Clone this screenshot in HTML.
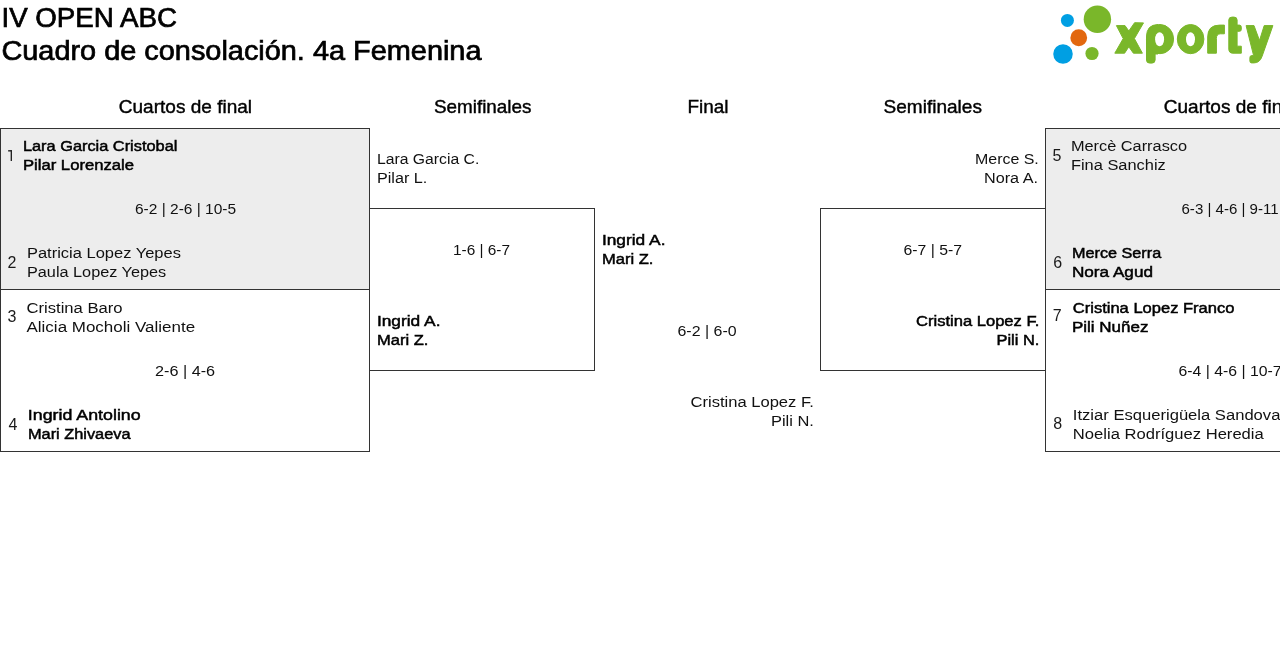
<!DOCTYPE html>
<html><head><meta charset="utf-8">
<style>
html,body{margin:0;padding:0;background:#fff;width:1280px;height:664px;overflow:hidden}
svg{position:absolute;left:0;top:0;display:block;will-change:transform}
text{font-family:"Liberation Sans",sans-serif;font-size:15.5px;fill:#1e1e1e}
.title{font-size:27px;fill:#000;stroke:#000;stroke-width:0.7px}
.hdr{font-size:18px;fill:#000;stroke:#000;stroke-width:0.4px}
.b{fill:#000;stroke:#000;stroke-width:0.5px}
.n{fill:#111}
.seed{fill:#1a1a1a;font-size:16px}
</style></head>
<body>
<svg width="1280" height="664" viewBox="0 0 1280 664">
<g shape-rendering="crispEdges">
<rect x="1" y="129" width="368" height="160" fill="#ededed"/>
<rect x="1046" y="129" width="234" height="160" fill="#ededed"/>
<rect x="0" y="128" width="1" height="324" fill="#333"/>
<rect x="369" y="128" width="1" height="324" fill="#333"/>
<rect x="0" y="128" width="370" height="1" fill="#333"/>
<rect x="0" y="289" width="370" height="1" fill="#333"/>
<rect x="0" y="451" width="370" height="1" fill="#333"/>
<rect x="369" y="208" width="226" height="1" fill="#333"/>
<rect x="369" y="370" width="226" height="1" fill="#333"/>
<rect x="594" y="208" width="1" height="163" fill="#333"/>
<rect x="820" y="208" width="226" height="1" fill="#333"/>
<rect x="820" y="370" width="226" height="1" fill="#333"/>
<rect x="820" y="208" width="1" height="163" fill="#333"/>
<rect x="1045" y="128" width="1" height="324" fill="#333"/>
<rect x="1045" y="128" width="236" height="1" fill="#333"/>
<rect x="1045" y="289" width="236" height="1" fill="#333"/>
<rect x="1045" y="451" width="236" height="1" fill="#333"/>
</g>
<g id="logo">
<circle cx="1067.4" cy="20.4" r="6.5" fill="#009fe3"/>
<circle cx="1097.4" cy="19.2" r="13.7" fill="#7ab72a"/>
<circle cx="1078.75" cy="37.75" r="8.4" fill="#e2680f"/>
<circle cx="1063" cy="54" r="9.75" fill="#009fe3"/>
<circle cx="1092" cy="53.5" r="6.6" fill="#7ab72a"/>
<g fill="#7ab72a" stroke="#7ab72a" stroke-width="1" stroke-linejoin="round">
<path d="M1116.4,25.6 L1125,25.6 L1128.8,31 L1134.6,22.7 L1143.5,22.9 L1134.4,38.6 L1142.4,53.2 L1133.4,53.2 L1128.8,46.8 L1124.6,53.2 L1114.8,53.2 L1123.2,38.6 Z"/>
<path d="M1146.5,60 L1146.5,37 Q1146.5,24.6 1158,24.6 L1158,54 L1155.1,54 L1155.1,60 Q1155.1,63.1 1152,63.1 L1149.6,63.1 Q1146.5,63.1 1146.5,60 Z"/>
<ellipse cx="1160" cy="39.1" rx="13.6" ry="14.6"/>
<ellipse cx="1190.6" cy="39.1" rx="13.3" ry="14.6"/>
<path d="M1207.7,53.2 L1207.7,37 Q1207.7,25.1 1219.5,25.1 L1224.4,25.1 L1224.4,33.8 L1220.5,33.8 Q1216.4,33.8 1216.4,38.5 L1216.4,53.2 Z"/>
<path d="M1228.8,20 Q1228.8,17.1 1232,17.1 L1234,17.1 Q1237.1,17.1 1237.1,20 L1237.1,25.1 L1239.5,25.1 Q1241.3,25.1 1241.3,27.2 L1241.3,29.5 Q1241.3,31.3 1239.5,31.3 L1237.1,31.3 L1237.1,46.2 L1241.3,46.2 L1241.3,53.2 L1233,53.2 Q1228.8,53.2 1228.8,49 Z"/>
<path d="M1246.1,25.6 L1254,25.6 L1259.5,40.5 L1264.2,25.6 L1272.9,25.6 L1262,56.5 Q1259.8,62.9 1254,62.9 L1251.5,62.9 Q1249.9,62.9 1249.9,61 L1249.9,57.5 Q1249.9,55.6 1251.8,55.6 L1253.6,55.6 Z"/>
</g>
<ellipse cx="1159.6" cy="39.3" rx="4.5" ry="7" fill="#fff"/>
<ellipse cx="1190.5" cy="39.3" rx="4.5" ry="7" fill="#fff"/>
</g>

<path d="M8.1,150.9 L11.3,150.6 L11.3,161" fill="none" stroke="#1a1a1a" stroke-width="1.3"/>
<text class="title" transform="translate(1.45 26.5) scale(1.0262 1)">IV OPEN ABC</text>
<text class="title" transform="translate(1.43 60) scale(1.0700 1)">Cuadro de consolación. 4a Femenina</text>
<text class="hdr" transform="translate(118.80 113) scale(1.0570 1)">Cuartos de final</text>
<text class="hdr" transform="translate(434.00 113) scale(1.0479 1)">Semifinales</text>
<text class="hdr" transform="translate(687.45 113) scale(1.0536 1)">Final</text>
<text class="hdr" transform="translate(883.60 113) scale(1.0576 1)">Semifinales</text>
<text class="hdr" transform="translate(1163.80 113) scale(1.0570 1)">Cuartos de final</text>
<text class="b" transform="translate(22.94 151) scale(1.0551 1)">Lara Garcia Cristobal</text>
<text class="b" transform="translate(22.92 170) scale(1.0759 1)">Pilar Lorenzale</text>
<text class="n" transform="translate(135.00 214) scale(1.0001 1)">6-2 | 2-6 | 10-5</text>
<text class="seed" transform="translate(7.60 268) scale(1.0000 1)">2</text>
<text class="n" transform="translate(26.94 258) scale(1.0637 1)">Patricia Lopez Yepes</text>
<text class="n" transform="translate(26.95 277) scale(1.0509 1)">Paula Lopez Yepes</text>
<text class="seed" transform="translate(7.50 322) scale(1.0000 1)">3</text>
<text class="n" transform="translate(26.50 313) scale(1.0734 1)">Cristina Baro</text>
<text class="n" transform="translate(26.50 332) scale(1.0959 1)">Alicia Mocholi Valiente</text>
<text class="n" transform="translate(155.00 376) scale(1.0471 1)">2-6 | 4-6</text>
<text class="seed" transform="translate(8.50 430) scale(1.0000 1)">4</text>
<text class="b" transform="translate(27.85 420) scale(1.1490 1)">Ingrid Antolino</text>
<text class="b" transform="translate(27.95 439) scale(1.0546 1)">Mari Zhivaeva</text>
<text class="n" transform="translate(376.98 164) scale(1.0154 1)">Lara Garcia C.</text>
<text class="n" transform="translate(376.96 183) scale(1.0450 1)">Pilar L.</text>
<text class="n" transform="translate(453.01 255) scale(0.9942 1)">1-6 | 6-7</text>
<text class="b" transform="translate(376.88 326) scale(1.1188 1)">Ingrid A.</text>
<text class="b" transform="translate(376.93 345) scale(1.0673 1)">Mari Z.</text>
<text class="b" transform="translate(601.88 245) scale(1.1188 1)">Ingrid A.</text>
<text class="b" transform="translate(601.93 264) scale(1.0673 1)">Mari Z.</text>
<text class="n" transform="translate(677.50 336) scale(1.0290 1)">6-2 | 6-0</text>
<text class="n" transform="translate(690.50 407) scale(1.0689 1)">Cristina Lopez F.</text>
<text class="n" transform="translate(770.94 426) scale(1.0611 1)">Pili N.</text>
<text class="n" transform="translate(974.97 164) scale(1.0300 1)">Merce S.</text>
<text class="n" transform="translate(983.96 183) scale(1.0450 1)">Nora A.</text>
<text class="n" transform="translate(903.50 255) scale(1.0207 1)">6-7 | 5-7</text>
<text class="b" transform="translate(916.00 326) scale(1.0689 1)">Cristina Lopez F.</text>
<text class="b" transform="translate(996.44 345) scale(1.0611 1)">Pili N.</text>
<text class="seed" transform="translate(1052.60 161) scale(1.0000 1)">5</text>
<text class="n" transform="translate(1070.95 151) scale(1.0541 1)">Mercè Carrasco</text>
<text class="n" transform="translate(1070.94 170) scale(1.0586 1)">Fina Sanchiz</text>
<text class="n" transform="translate(1181.50 214) scale(0.9715 1)">6-3 | 4-6 | 9-11</text>
<text class="seed" transform="translate(1053.15 268) scale(1.0000 1)">6</text>
<text class="b" transform="translate(1071.95 258) scale(1.0466 1)">Merce Serra</text>
<text class="b" transform="translate(1071.89 277) scale(1.1079 1)">Nora Agud</text>
<text class="seed" transform="translate(1052.65 321) scale(1.0000 1)">7</text>
<text class="b" transform="translate(1072.80 313) scale(1.0669 1)">Cristina Lopez Franco</text>
<text class="b" transform="translate(1071.90 332) scale(1.0980 1)">Pili Nuñez</text>
<text class="n" transform="translate(1178.50 376) scale(1.0200 1)">6-4 | 4-6 | 10-7</text>
<text class="seed" transform="translate(1053.15 429) scale(1.0000 1)">8</text>
<text class="n" transform="translate(1072.83 420) scale(1.0717 1)">Itziar Esquerigüela Sandoval</text>
<text class="n" transform="translate(1072.83 439) scale(1.0719 1)">Noelia Rodríguez Heredia</text>
</svg>
</body></html>
